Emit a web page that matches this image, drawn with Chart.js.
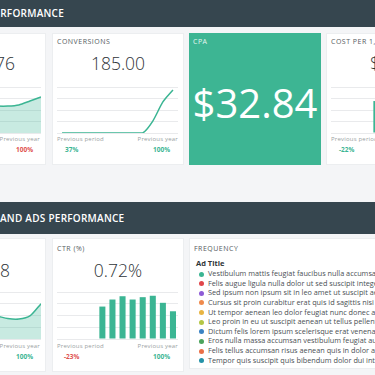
<!DOCTYPE html>
<html>
<head>
<meta charset="utf-8">
<script src="https://cdn.jsdelivr.net/npm/chart.js@4/dist/chart.umd.min.js"></script>
<style>
  html, body { margin: 0; padding: 0; }
  body {
    width: 375px; height: 375px; overflow: hidden; position: relative;
    background: #f4f5f7; font-family: "Open Sans", sans-serif; color: #3a3f44;
  }
  .abs { position: absolute; white-space: nowrap; }
  .header { position: absolute; left: 0; width: 375px; background: #36464f; overflow: hidden; }
  .header span { position: absolute; color: #fff; font-size: 10px; font-weight: 600; letter-spacing: 0.25px; }
  .card { position: absolute; background: #fff; border: 1px solid #eceef0; box-sizing: border-box; }
  .label { font-size: 7px; letter-spacing: 0.5px; color: #555b61; }
  .value { font-size: 17.5px; font-weight: 300; color: #2f3438; }
  .prev { font-size: 6px; color: #9a9fa3; letter-spacing: 0.2px; }
  .pct { font-size: 6.5px; font-weight: 700; }
  .up { color: #3bb593; }
  .down { color: #e0524f; }
  canvas { position: absolute; }
  .item { font-size: 7.3px; color: #4a4f54; height: 9.65px; line-height: 9.65px; }
  .dot { display: inline-block; width: 5px; height: 5px; border-radius: 50%; margin-right: 4px; vertical-align: -0.5px; }
</style>
</head>
<body>

<div class="header" style="top:0;height:27px;"><span style="right:311px;top:6px;">PERFORMANCE</span></div>
<div class="header" style="top:202px;height:32px;"><span style="left:0;top:9px;">AND ADS PERFORMANCE</span></div>

<!-- top row cards -->
<div class="card" style="left:-86px;top:33px;width:132px;height:132px;"></div>
<div class="card" style="left:52px;top:33px;width:132px;height:132px;"></div>
<div class="abs" style="left:189px;top:33px;width:132px;height:132px;background:#3db593;"></div>
<div class="card" style="left:326px;top:33px;width:132px;height:132px;"></div>

<!-- bottom row cards -->
<div class="card" style="left:-86px;top:238px;width:132px;height:134px;"></div>
<div class="card" style="left:52px;top:238px;width:132px;height:134px;"></div>
<div class="card" style="left:189px;top:238px;width:200px;height:131px;"></div>

<!-- card texts -->
<div class="abs value" style="right:360px;top:51px;">$1,876</div>
<div class="abs prev" style="right:335px;top:135px;">Previous year</div>
<div class="abs pct down" style="left:16px;top:145px;">100%</div>

<div class="abs label" style="left:57px;top:37px;">CONVERSIONS</div>
<div class="abs value" style="left:52px;width:132px;text-align:center;top:51px;">185.00</div>
<div class="abs prev" style="left:57px;top:135px;">Previous period</div>
<div class="abs prev" style="right:197px;top:135px;">Previous year</div>
<div class="abs pct up" style="left:65px;top:145px;">37%</div>
<div class="abs pct up" style="left:153px;top:145px;">100%</div>

<div class="abs label" style="left:193px;top:37px;color:#e6f6f1;">CPA</div>
<div class="abs" style="left:189px;width:132px;text-align:center;top:75px;font-size:40px;font-weight:400;color:#fff;">$32.84</div>

<div class="abs label" style="left:331px;top:37px;">COST PER 1,000 IMPRESSIONS</div>
<div class="abs value" style="left:326px;width:132px;text-align:center;top:51px;">$5.48</div>
<div class="abs prev" style="left:331px;top:135px;">Previous period</div>
<div class="abs pct up" style="left:339px;top:145px;">-22%</div>

<div class="abs value" style="right:365px;top:258px;">3,318</div>
<div class="abs prev" style="right:335px;top:342px;">Previous year</div>
<div class="abs pct up" style="left:16px;top:352px;">100%</div>

<div class="abs label" style="left:57px;top:244px;">CTR (%)</div>
<div class="abs value" style="left:52px;width:132px;text-align:center;top:258px;">0.72%</div>
<div class="abs prev" style="left:57px;top:342px;">Previous period</div>
<div class="abs prev" style="right:197px;top:342px;">Previous year</div>
<div class="abs pct down" style="left:64px;top:352px;">-23%</div>
<div class="abs pct up" style="left:153px;top:352px;">100%</div>

<div class="abs label" style="left:194px;top:244px;">FREQUENCY</div>
<div class="abs" style="left:196px;top:258px;font-size:7.5px;font-weight:700;color:#2f3438;">Ad Title</div>
<div class="abs" id="freq" style="left:199px;top:269px;"></div>

<canvas id="topA" width="122" height="48" style="left:-81px;top:86px;"></canvas>
<canvas id="conv" width="121" height="48" style="left:57px;top:86px;"></canvas>
<canvas id="cost" width="121" height="48" style="left:331px;top:86px;"></canvas>
<canvas id="botA" width="122" height="49" style="left:-81px;top:291px;"></canvas>
<canvas id="ctr" width="121" height="49" style="left:57px;top:291px;"></canvas>

<script>
const months = ['Jan', 'Feb', 'Mar', 'Apr', 'May', 'Jun', 'Jul', 'Aug', 'Sep', 'Oct', 'Nov', 'Dec'];
const revenueTrend = [150, 142, 135, 128, 124, 121, 119, 117, 117, 122, 139, 157];
const conversionsTrend = [0, 0, 0, 0, 0, 0, 0, 0, 0, 52, 135, 187];
const costPerThousand = [0, 0, 0, 0, 13.9, 14.5, 12.8, 13.2, 12.4, 11.8, 13.6, 15.1];
const clicksTrend = [160, 150, 138, 126, 117, 110, 104, 98, 87, 85, 98, 150];
const ctrValues = [0, 0, 0, 0, 0.69, 0.84, 0.91, 0.84, 0.89, 0.92, 0.77, 0.59];

const adTitles = [
  'Vestibulum mattis feugiat faucibus nulla accumsan lorem',
  'Felis augue ligula nulla dolor ut sed suscipit integer',
  'Sed ipsum non ipsum sit in leo amet ut suscipit aenean',
  'Cursus sit proin curabitur erat quis id sagittis nisi ut',
  'Ut tempor aenean leo dolor feugiat nunc donec a felis',
  'Leo proin in eu ut suscipit aenean ut tellus pellentesque',
  'Dictum felis lorem ipsum scelerisque erat venenatis',
  'Eros nulla massa accumsan vestibulum feugiat augue',
  'Felis tellus accumsan risus aenean quis in dolor amet',
  'Tempor quis suscipit quis bibendum dolor dui integer',
];
const adColors = ['#3bb593', '#e0464b', '#8e5bd6', '#ef8a4c', '#e8b442', '#b4c645', '#3a82c3', '#4ba35b', '#ea6f46', '#2492a8'];

const GREEN = '#3bb593';

const freq = document.getElementById('freq');
adTitles.forEach((title, i) => {
  const row = document.createElement('div');
  row.className = 'item';
  row.innerHTML = `<span class="dot" style="background:${adColors[i]}"></span>${title}`;
  freq.appendChild(row);
});

const miniOptions = (max, step, offset) => ({
  responsive: false,
  animation: false,
  devicePixelRatio: 1,
  layout: { padding: { top: 1, bottom: 1, left: 0, right: 0 } },
  plugins: { legend: { display: false }, tooltip: { enabled: false } },
  scales: {
    x: { display: false, offset },
    y: {
      min: 0,
      max,
      ticks: { display: false, stepSize: step },
      grid: { color: '#e9eaec', drawTicks: false, lineWidth: 1 },
      border: { display: false },
    },
  },
});

const lineChart = (id, values, max, step, fill, offset) => {
  const ctx = document.getElementById(id).getContext('2d');
  new Chart(ctx, {
    type: 'line',
    data: {
      labels: months,
      datasets: [{
        data: values,
        borderColor: GREEN,
        borderWidth: 1.5,
        backgroundColor: 'rgba(59, 181, 147, 0.28)',
        fill: fill ? 'origin' : false,
        tension: 0.25,
        pointRadius: 0,
      }],
    },
    options: miniOptions(max, step, offset),
  });
};

const barChart = (id, values, max, step) => {
  const ctx = document.getElementById(id).getContext('2d');
  new Chart(ctx, {
    type: 'bar',
    data: {
      labels: months,
      datasets: [{
        data: values,
        backgroundColor: GREEN,
        categoryPercentage: 1,
        barPercentage: 0.6,
      }],
    },
    options: miniOptions(max, step, true),
  });
};

lineChart('topA', revenueTrend, 200, 50, true, false);
lineChart('conv', conversionsTrend, 200, 50, false, true);
barChart('cost', costPerThousand, 20, 5);
lineChart('botA', clicksTrend, 200, 50, true, false);
barChart('ctr', ctrValues, 1, 0.25);
</script>
</body>
</html>
